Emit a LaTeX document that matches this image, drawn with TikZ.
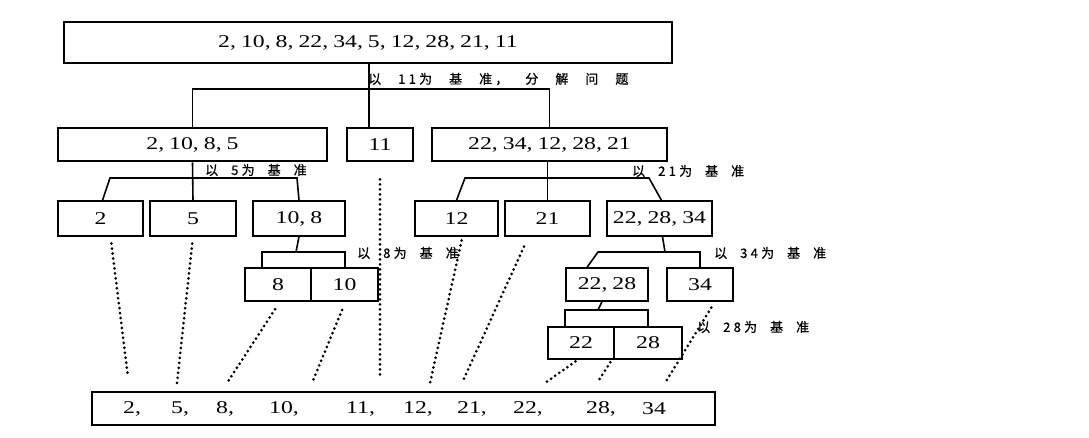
\documentclass[tikz,border=0pt]{standalone}
\usepackage{fontspec}
\newfontfamily\numfont[FakeStretch=1.32]{Liberation Serif}
\newfontfamily\cjk[LetterSpace=25, FakeBold=0.6]{Noto Sans CJK SC}
\newcommand\pivotfont{\cjk\fontsize{13}{15}\selectfont\spaceskip 13pt\relax}
% a little air after each comma of the number lists
\XeTeXinterchartokenstate=1
\newXeTeXintercharclass\commaclass
\XeTeXcharclass`\,=\commaclass
\XeTeXinterchartoks\commaclass 0 = {\kern5pt}
\usetikzlibrary{calc}

\tikzset{
  thickbox/.style={draw, line width=2.6pt, inner sep=0pt, font=\numfont\fontsize{18}{21}\selectfont},
  thinbox/.style={draw, line width=1.3pt, inner sep=0pt, font=\numfont\fontsize{18}{21}\selectfont},
  num/.style={inner sep=0pt, anchor=west, font=\numfont\fontsize{18}{21}\selectfont},
  pivot/.style={inner sep=0pt, anchor=west, font=\pivotfont},
  branch/.style={line width=1.6pt},
  track/.style={line width=3pt, dash pattern=on 0pt off 5pt, line cap=round}
}

\begin{document}
\begin{tikzpicture}[x=1pt, y=-1pt]
  \useasboundingbox (0,0) rectangle (1089,438);
  % Input list
  \node[thickbox, minimum width=608pt, minimum height=41pt] (root) at (368,42.5) {2,10,8,22,34,5,12,28,21,11};
  \node[pivot, font=\pivotfont\spaceskip 17pt\relax] (lab11) at (368,79) {以 11为 基 准， 分 解 问 题};
  % First split
  \node[thickbox, minimum width=269pt, minimum height=33pt] (lo) at (192.5,144.5) {2,10,8,5};
  \node[thickbox, minimum width=66pt, minimum height=33pt] (a11) at (380,144.5) {11};
  \node[thickbox, minimum width=235pt, minimum height=33pt] (hi) at (549.5,144.5) {22,34,12,28,21};
  \coordinate (s0) at (369,89);
  \draw[branch] (lo.north) |- (s0) -| (hi.north);
  \draw[branch] (root.south -| s0) -- (s0 |- a11.north);
  % Left part, pivot 5
  \node[pivot] (lab5) at (205,170) {以 5为 基 准};
  \node[thinbox, minimum width=85pt, minimum height=35pt] (a2) at (100.5,218.5) {2};
  \node[thinbox, minimum width=86pt, minimum height=35pt] (a5) at (193,218.5) {5};
  \node[thinbox, minimum width=92pt, minimum height=35pt] (a108) at (299,218.5) {10,8};
  \coordinate (b1l) at (110,178);
  \coordinate (b1r) at (297,178);
  \draw[branch] (lo.south) -- (a5.north);
  \draw[branch] ($(a2.north)+(2,0)$) -- (b1l) -- (b1r) -- (a108.north);
  % Right part, pivot 21
  \node[pivot] (lab21) at (632,171) {以 21为 基 准};
  \node[thinbox, minimum width=83pt, minimum height=35pt] (a12) at (456.5,218.5) {12};
  \node[thinbox, minimum width=85pt, minimum height=35pt] (a21) at (547.5,218.5) {21};
  \node[thinbox, minimum width=105pt, minimum height=35pt] (a222834) at (659.5,218.5) {22,28,34};
  \coordinate (b2l) at (465,178);
  \coordinate (b2r) at (649,178);
  \draw[branch] (hi.south -| a21.north) -- (a21.north);
  \draw[branch] (a12.north) -- (b2l) -- (b2r) -- ($(a222834.north)+(2,0)$);
  % 10,8 with pivot 8
  \node[pivot] (lab8) at (357,253) {以 8为 基 准};
  \node[thinbox, minimum width=66pt, minimum height=33pt] (a8) at (278,284.5) {8};
  \node[thinbox, minimum width=67pt, minimum height=33pt] (a10) at (344.5,284.5) {10};
  \coordinate (b3l) at (262,252);
  \coordinate (b3m) at (296,252);
  \coordinate (b3r) at (345,252);
  \draw[branch] (a108.south) -- (b3m);
  \draw[branch] (b3l |- a8.north) -- (b3l) -- (b3r) -- (b3r |- a10.north);
  % 22,28,34 with pivot 34
  \node[pivot] (lab34) at (714,253) {以 34为 基 准};
  \node[thinbox, minimum width=82pt, minimum height=33pt] (a2228) at (607,284.5) {22,28};
  \node[thinbox, minimum width=66pt, minimum height=33pt] (a34) at (700,284.5) {34};
  \coordinate (b4l) at (598,252);
  \coordinate (b4m) at (665,252);
  \coordinate (b4r) at (700,252);
  \draw[branch] ($(a222834.south)+(3,0)$) -- (b4m);
  \draw[branch] ($(a2228.north)+(-20,0)$) -- (b4l) -- (b4r) -- (a34.north);
  % 22,28 with pivot 28
  \node[pivot] (lab28) at (697,327) {以 28为 基 准};
  \node[thinbox, minimum width=66pt, minimum height=32pt] (a22) at (581,343) {22};
  \node[thinbox, minimum width=68pt, minimum height=32pt] (a28) at (648,343) {28};
  \coordinate (b5l) at (565,310);
  \coordinate (b5m) at (598,310);
  \coordinate (b5r) at (648,310);
  \draw[branch] ($(a2228.south)+(-5,0)$) -- (b5m);
  \draw[branch] (b5l |- a22.north) -- (b5l) -- (b5r) -- (a28.north);
  % Sorted result
  \node[thickbox, minimum width=623pt, minimum height=33pt] (res) at (403.5,408.5) {};
  \node[num] (v2) at (123,408.5) {2,};
  \node[num] (v5) at (171,408.5) {5,};
  \node[num] (v8) at (216,408.5) {8,};
  \node[num] (v10) at (269,408.5) {10,};
  \node[num] (v11) at (346,408.5) {11,};
  \node[num] (v12) at (403,408.5) {12,};
  \node[num] (v21) at (457,408.5) {21,};
  \node[num] (v22) at (513,408.5) {22,};
  \node[num] (v28) at (586,408.5) {28,};
  \node[num] (v34) at (642,408.5) {34};
  % Dotted tracks down to the result
  \coordinate (e2) at (128,377);
  \coordinate (e5) at (177,383);
  \coordinate (e8) at (227,383);
  \coordinate (e10) at (312,383);
  \coordinate (e11) at (380,375);
  \coordinate (e12) at (430,383);
  \coordinate (e21) at (462,383);
  \coordinate (e22) at (545,383);
  \coordinate (e28) at (597,383);
  \coordinate (e34) at (665,383);
  \draw[track, shorten <=7pt] ($(a2.south)+(10,0)$) -- (e2);
  \draw[track, shorten <=7pt] (a5.south) -- (e5);
  \draw[track, shorten <=9pt] ($(a8.south)+(2,0)$) -- (e8);
  \draw[track, shorten <=9pt] ($(a10.south)+(1,0)$) -- (e10);
  \draw[track, shorten <=17pt] (a11.south) -- (e11);
  \draw[track, shorten <=4pt] ($(a12.south)+(6,0)$) -- (e12);
  \draw[track, shorten <=11pt] ($(a21.south)+(-19,0)$) -- (e21);
  \draw[track, shorten <=3pt] ($(a22.south)+(-3,0)$) -- (e22);
  \draw[track, shorten <=3pt] ($(a28.south)+(-36,0)$) -- (e28);
  \draw[track, shorten <=7pt] ($(a34.south)+(15,0)$) -- (e34);
\end{tikzpicture}
\end{document}
